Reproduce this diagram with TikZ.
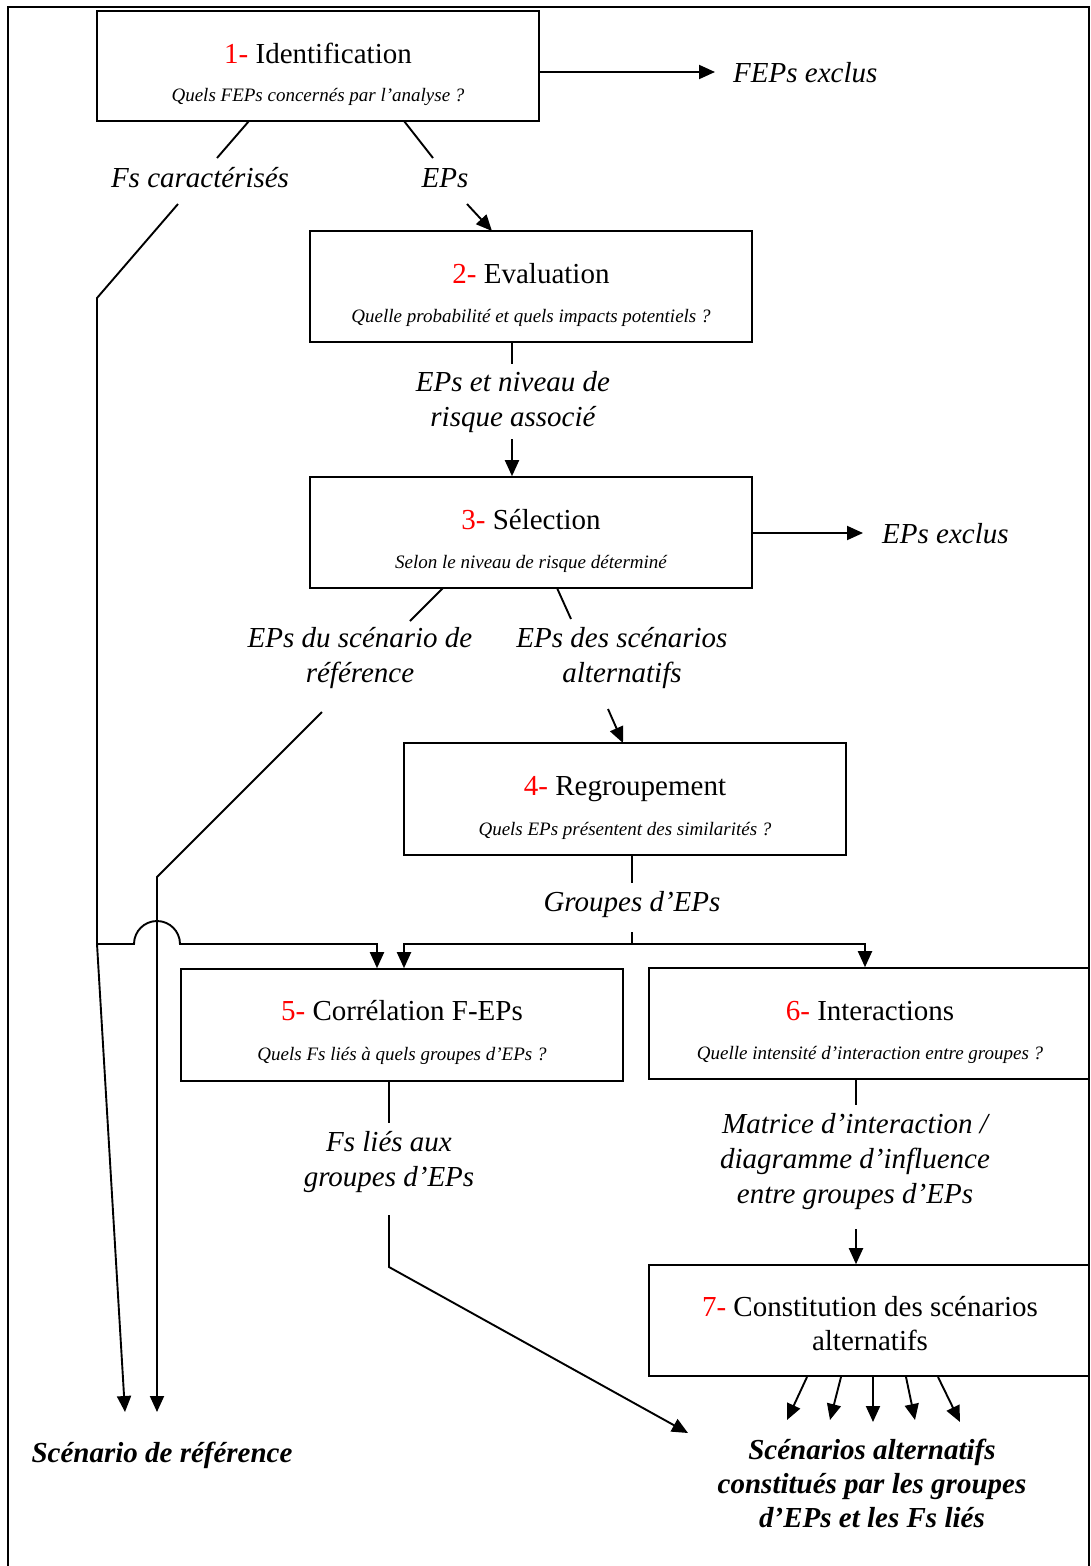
\documentclass[tikz,border=0pt]{standalone}
\usepackage{fontspec}
\setmainfont{Liberation Serif}
\usetikzlibrary{arrows.meta}

\tikzset{
  stage/.style={draw, line width=1.6pt, inner sep=0pt, minimum width=442pt, minimum height=111pt},
  stagetitle/.style={anchor=base, inner sep=0pt, font=\fontsize{29}{34}\selectfont},
  stageq/.style={anchor=base, inner sep=0pt, font=\fontsize{19}{23}\selectfont\itshape},
  flowlabel/.style={anchor=base, align=center, inner sep=0pt, font=\fontsize{29}{35}\selectfont\itshape},
  outcome/.style={anchor=base, align=center, inner sep=0pt, font=\fontsize{29}{34}\selectfont\bfseries\itshape},
  link/.style={line width=1.9pt},
  flow/.style={line width=1.9pt, -{Triangle[length=16pt,width=14pt]}},
  frame/.style={line width=2.8pt},
}

\begin{document}
\begin{tikzpicture}[x=1pt,y=-1pt]
\useasboundingbox (0,0) rectangle (1091,1566);

% outer frame (open at the bottom of the page)
\draw[frame] (8,1575) -- (8,7) -- (1089,7) -- (1089,1575);

% ---------- stages ----------
\node[stage] (b1) at (318,66) [minimum height=110pt] {};
\node[stagetitle] (t1) at (318,63) {\textcolor{red}{1-} Identification};
\node[stageq] (q1) at (318,101) {Quels FEPs concernés par l’analyse ?};

\node[stage] (b2) at (531,286.5) {};
\node[stagetitle] (t2) at (531,283) {\textcolor{red}{2-} Evaluation};
\node[stageq] (q2) at (531,322) {Quelle probabilité et quels impacts potentiels ?};

\node[stage] (b3) at (531,532.5) {};
\node[stagetitle] (t3) at (531,529) {\textcolor{red}{3-} Sélection};
\node[stageq] (q3) at (531,568) {Selon le niveau de risque déterminé};

\node[stage] (b4) at (625,799) [minimum height=112pt] {};
\node[stagetitle] (t4) at (625,795) {\textcolor{red}{4-} Regroupement};
\node[stageq] (q4) at (625,835) {Quels EPs présentent des similarités ?};

\node[stage] (b5) at (402,1025) [minimum height=112pt] {};
\node[stagetitle] (t5) at (402,1020) {\textcolor{red}{5-} Corrélation F-EPs};
\node[stageq] (q5) at (402,1060) {Quels Fs liés à quels groupes d’EPs ?};

\node[stage] (b6) at (869,1023.5) [minimum width=440pt] {};
\node[stagetitle] (t6) at (870,1020) {\textcolor{red}{6-} Interactions};
\node[stageq] (q6) at (870,1059) {Quelle intensité d’interaction entre groupes ?};

\node[stage] (b7) at (869,1320.5) [minimum width=440pt] {};
% multi-line nodes sit on the baseline of their last line
\node[stagetitle, align=center] (t7) at (870,1350) {\textcolor{red}{7-} Constitution des scénarios\\alternatifs};

% ---------- labels ----------
\node[flowlabel, anchor=base west] (fx) at (733,82) {FEPs exclus};
\node[flowlabel] (fs) at (200,187) {Fs caractérisés};
\node[flowlabel] (ep) at (445,187) {EPs};
\node[flowlabel] (eprisk) at (513,426) {EPs et niveau de\\risque associé};
\node[flowlabel, anchor=base west] (ex) at (882,543) {EPs exclus};
\node[flowlabel] (epref) at (360,682) {EPs du scénario de\\référence};
\node[flowlabel] (epalt) at (622,682) {EPs des scénarios\\alternatifs};
\node[flowlabel] (grp) at (632,911) {Groupes d’EPs};
\node[flowlabel] (fsl) at (389,1186) {Fs liés aux\\groupes d’EPs};
\node[flowlabel] (mat) at (855,1203) {Matrice d’interaction /\\diagramme d’influence\\entre groupes d’EPs};
\node[outcome] (sref) at (162,1462) {Scénario de référence};
\node[outcome] (salt) at (872,1527) {Scénarios alternatifs\\constitués par les groupes\\d’EPs et les Fs liés};

% ---------- connector points ----------
\coordinate (fxa) at (715,72);
\coordinate (b1fs) at (249,121);
\coordinate (fsa) at (217,158);
\coordinate (fsb) at (178,204);
\coordinate (k1) at (97,298);
\coordinate (k2) at (97,944);
\coordinate (h1) at (134,944);
\coordinate (a5t) at (377,944);
\coordinate (sr1) at (125,1412);
\coordinate (b1ep) at (404,121);
\coordinate (epa) at (433,158);
\coordinate (epb) at (467,204);
\coordinate (b2in) at (492,231);
\coordinate (rla) at (512,364);
\coordinate (rlb) at (512,439);
\coordinate (exa) at (863,533);
\coordinate (b3r) at (443,588);
\coordinate (rfa) at (410,621);
\coordinate (rfb) at (322,712);
\coordinate (k3) at (157,877);
\coordinate (sr2) at (157,1412);
\coordinate (b3a) at (557,588);
\coordinate (alta) at (571,619);
\coordinate (altb) at (608,709);
\coordinate (b4in) at (623,743);
\coordinate (ga) at (632,883);
\coordinate (gb) at (632,932);
\coordinate (gc) at (632,944);
\coordinate (g5) at (404,944);
\coordinate (g6) at (865,944);
\coordinate (fla) at (389,1123);
\coordinate (flb) at (389,1215);
\coordinate (flc) at (389,1267);
\coordinate (sa) at (688,1433);
\coordinate (ma) at (856,1105);
\coordinate (mb) at (856,1229);

% ---------- connectors ----------
\draw[flow] (b1.east |- fxa) -- (fxa);
\draw[link] (b1fs) -- (fsa);
\draw[link] (b1ep) -- (epa);
\draw[flow] (epb) -- (b2in);

% reference-scenario feature line, hopping over the crossing line
\draw[flow] (fsb) -- (k1) -- (k2) -- (h1) arc[start angle=180, end angle=360, radius=23] -- (a5t) -- (a5t |- b5.north);
\draw[flow] (k2) -- (sr1);

\draw[link] (b2.south -| rla) -- (rla);
\draw[flow] (rlb) -- (rlb |- b3.north);
\draw[flow] (b3.east |- exa) -- (exa);

\draw[link] (b3r) -- (rfa);
\draw[flow] (rfb) -- (k3) -- (sr2);
\draw[link] (b3a) -- (alta);
\draw[flow] (altb) -- (b4in);

\draw[link] (b4.south -| ga) -- (ga);
\draw[link] (gb) -- (gc);
\draw[flow] (gc) -- (g5) -- (g5 |- b5.north);
\draw[flow] (gc) -- (g6) -- (g6 |- b6.north);

\draw[link] (b5.south -| fla) -- (fla);
\draw[flow] (flb) -- (flc) -- (sa);

\draw[link] (b6.south -| ma) -- (ma);
\draw[flow] (mb) -- (mb |- b7.north);

% fan of alternative scenarios
\foreach \sx/\ex/\ey [count=\i] in {807/787/1420, 841/830/1420, 873/873/1422, 906/915/1420, 938/960/1422}{
  \coordinate (fs\i) at (\sx,1377);
  \coordinate (fe\i) at (\ex,\ey);
  \draw[flow] (fs\i) -- (fe\i);
}
\end{tikzpicture}
\end{document}
